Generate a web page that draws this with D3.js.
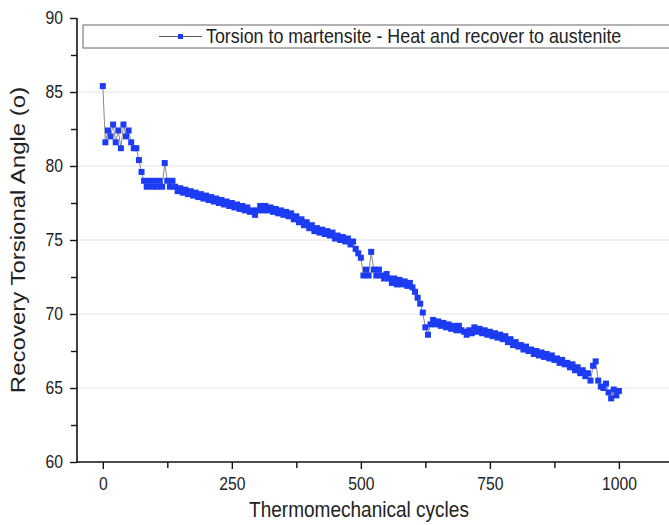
<!DOCTYPE html>
<html>
<head>
<meta charset="utf-8">
<script src="https://cdn.jsdelivr.net/npm/d3@7"></script>
<style>
  body { margin: 0; background: #fff; }
  svg { display: block; font-family: "Liberation Sans", Arial, sans-serif; }
</style>
</head>
<body>
<svg id="chart" width="669" height="525"></svg>
<script>
// recovery angle read every 5 cycles, 0..1000
const cycles = d3.range(0, 1001, 5);
const recoveryAngle = [
  85.4, 81.6, 82.4, 82.0, 82.8, 81.6, 82.4, 81.2, 82.8, 82.0,
  82.4, 81.6, 81.2, 81.2, 80.4, 79.6, 79.0, 78.6, 79.0, 78.6,
  79.0, 78.6, 79.0, 78.6, 80.2, 79.0, 78.6, 79.0, 78.6, 78.3,
  78.5, 78.2, 78.4, 78.1, 78.3, 78.0, 78.2, 77.9, 78.1, 77.8,
  78.0, 77.7, 77.9, 77.6, 77.8, 77.5, 77.7, 77.4, 77.6, 77.3,
  77.5, 77.2, 77.4, 77.1, 77.3, 77.0, 77.2, 76.9, 77.0, 76.7,
  77.0, 77.3, 77.0, 77.3, 77.0, 77.2, 76.9, 77.1, 76.8, 77.0,
  76.7, 76.9, 76.6, 76.8, 76.4, 76.6, 76.2, 76.4, 76.0, 76.2,
  75.8, 76.0, 75.6, 75.8, 75.5, 75.7, 75.4, 75.6, 75.3, 75.5,
  75.1, 75.3, 75.0, 75.2, 74.9, 75.1, 74.7, 74.9, 74.4, 74.1,
  73.8, 72.6, 73.0, 72.6, 74.2, 73.0, 72.6, 73.0, 72.6, 72.4,
  72.7, 72.4, 72.1, 72.4, 72.0, 72.3, 72.0, 72.2, 71.9, 72.1,
  71.8, 71.5, 71.1, 70.7, 70.1, 69.1, 68.6, 69.3, 69.6, 69.3,
  69.5, 69.2, 69.4, 69.1, 69.3, 69.0, 69.2, 68.9, 69.2, 68.9,
  68.8, 68.6, 68.9, 68.7, 69.1, 68.8, 69.0, 68.7, 68.9, 68.6,
  68.8, 68.5, 68.7, 68.4, 68.6, 68.3, 68.5, 68.1, 68.3, 67.9,
  68.1, 67.8, 67.9, 67.6, 67.8, 67.5, 67.6, 67.3, 67.5, 67.2,
  67.4, 67.1, 67.3, 67.0, 67.2, 66.9, 67.0, 66.7, 66.9, 66.6,
  66.7, 66.4, 66.6, 66.2, 66.4, 66.0, 66.2, 65.8, 66.0, 65.5,
  66.5, 66.8, 65.5, 65.1, 65.0, 65.3, 64.7, 64.3, 64.9, 64.5,
  64.8
];
const xTicks = [0, 250, 500, 750, 1000];
const yTicks = [60, 65, 70, 75, 80, 85, 90];
const seriesName = "Torsion to martensite - Heat and recover to austenite";

const svg = d3.select("#chart");
const m = { left: 77, right: 670.5, top: 18, bottom: 462 };
const squeeze = 0.85; // text in the source image is horizontally narrowed

const x = d3.scaleLinear().domain([-50, 1100]).range([m.left, m.right]);
const y = d3.scaleLinear().domain([60, 90]).range([m.bottom, m.top]);

const blue = "#1b3cf2";

//--grid
svg.append("g")
  .selectAll("line")
  .data(yTicks.filter((t) => t > 60 && t < 90))
  .enter()
  .append("line")
  .attr("x1", m.left)
  .attr("x2", 669)
  .attr("y1", (d) => y(d))
  .attr("y2", (d) => y(d))
  .style("stroke", "#e4e4e4")
  .style("stroke-width", 1);

//--axes
const gy = svg.append("g")
  .attr("transform", `translate(${m.left},0)`)
  .call(d3.axisLeft(y).tickValues(yTicks).tickSize(7));
svg.append("g")
  .attr("transform", `translate(${m.left},0)`)
  .call(d3.axisLeft(y).tickValues(d3.range(62.5, 90, 5)).tickSize(6).tickFormat(""));

const gx = svg.append("g")
  .attr("transform", `translate(0,${m.bottom})`)
  .call(d3.axisBottom(x).tickValues(xTicks).tickFormat(d3.format("d")).tickSize(7));
svg.append("g")
  .attr("transform", `translate(0,${m.bottom})`)
  .call(d3.axisBottom(x).tickValues([125, 375, 625, 875]).tickSize(6).tickFormat(""));

svg.selectAll(".domain").remove();
svg.selectAll(".tick line").style("stroke", "#111").style("stroke-width", 1.4);
svg.selectAll(".tick text").style("font-size", "18.5px").style("fill", "#222")
  .style("font-family", "Liberation Sans, Arial, sans-serif");

gy.selectAll(".tick text")
  .attr("x", -14 / squeeze)
  .attr("transform", `scale(${squeeze},1)`);
gx.selectAll(".tick text")
  .attr("y", 15)
  .attr("dy", "0.71em")
  .attr("transform", `scale(${squeeze},1)`);

svg.append("line").attr("x1", m.left).attr("x2", m.left).attr("y1", m.top).attr("y2", m.bottom + 0.7)
  .style("stroke", "#111").style("stroke-width", 1.6);
svg.append("line").attr("x1", m.left).attr("x2", 669).attr("y1", m.bottom).attr("y2", m.bottom)
  .style("stroke", "#111").style("stroke-width", 1.6);

//--titles
svg.append("text")
  .attr("transform", `translate(359,517) scale(${squeeze},1)`)
  .attr("text-anchor", "middle")
  .style("font-size", "22.4px")
  .style("fill", "#222")
  .text("Thermomechanical cycles");

svg.append("text")
  .attr("transform", `translate(25,240) scale(${squeeze},1) rotate(-90)`)
  .attr("text-anchor", "middle")
  .style("font-size", "24px")
  .style("fill", "#222")
  .text("Recovery Torsional Angle (o)");

//--series
const pts = cycles.map((c, i) => [c, recoveryAngle[i]]);

svg.append("path")
  .datum(pts)
  .attr("d", d3.line().x((d) => x(d[0])).y((d) => y(d[1])))
  .style("fill", "none")
  .style("stroke", "#555")
  .style("stroke-width", 0.7);

svg.append("g")
  .selectAll("rect")
  .data(pts)
  .enter()
  .append("rect")
  .attr("x", (d) => x(d[0]) - 3)
  .attr("y", (d) => y(d[1]) - 3)
  .attr("width", 6)
  .attr("height", 6)
  .style("fill", blue);

//--legend
const lg = svg.append("g");
lg.append("rect")
  .attr("x", 83)
  .attr("y", 25)
  .attr("width", 600)
  .attr("height", 23)
  .style("fill", "#fff")
  .style("stroke", "#666")
  .style("stroke-width", 1);
lg.append("line")
  .attr("x1", 159).attr("x2", 202).attr("y1", 36.5).attr("y2", 36.5)
  .style("stroke", "#555").style("stroke-width", 1);
lg.append("rect")
  .attr("x", 178).attr("y", 34).attr("width", 5).attr("height", 5)
  .style("fill", blue);
lg.append("text")
  .attr("transform", `translate(206,43) scale(${squeeze},1)`)
  .style("font-size", "21px")
  .style("fill", "#222")
  .text(seriesName);
</script>
</body>
</html>
